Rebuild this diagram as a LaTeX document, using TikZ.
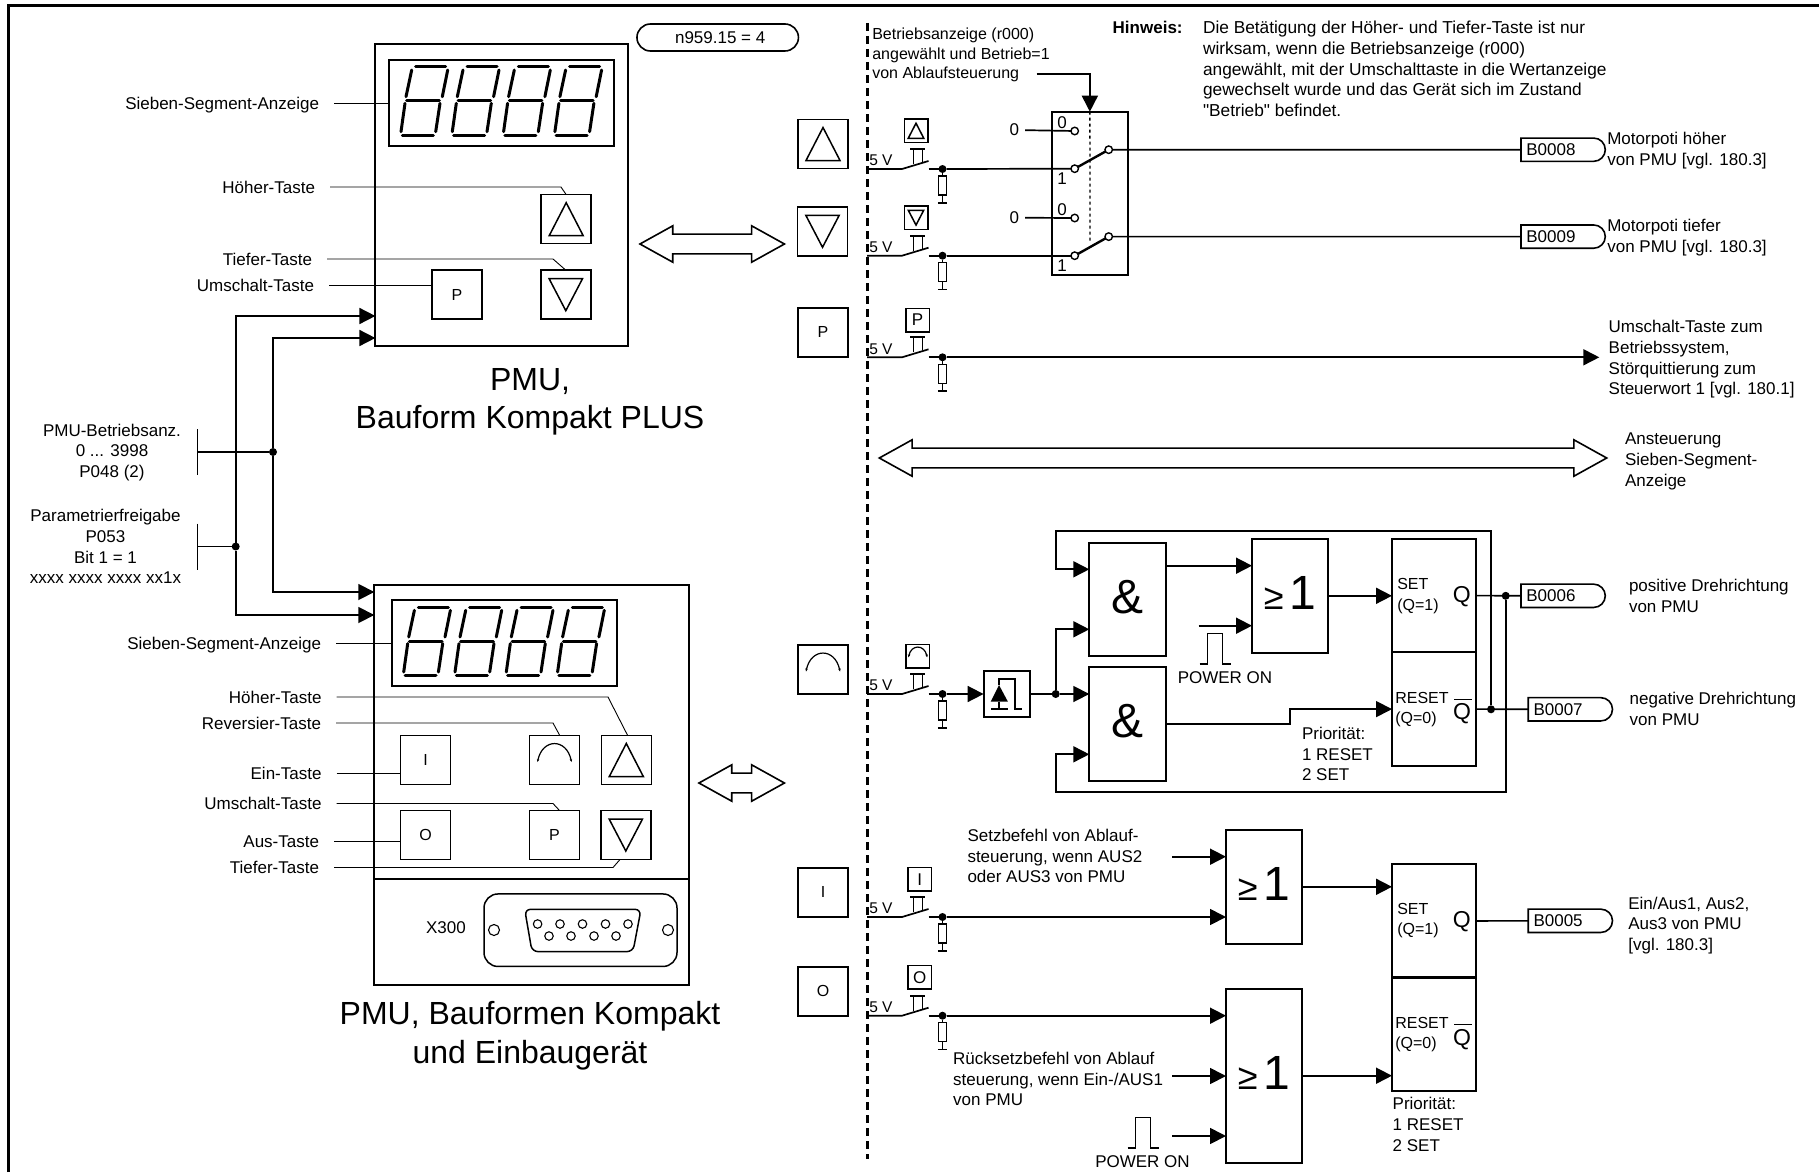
\documentclass[tikz,border=0pt]{standalone}
\usepackage{fontspec}
\setmainfont{Liberation Sans}
\newfontfamily\plainfam{Liberation Sans}
\usetikzlibrary{positioning,arrows.meta,shapes.misc,shapes.arrows,calc}

\newcommand{\labfont}{\fontsize{17}{20.8}\selectfont}
\newcommand{\capfont}{\fontsize{32}{38.5}\selectfont}
\newcommand{\gatefont}{\fontsize{48}{48}\selectfont}
\newcommand{\rsfont}{\fontsize{16}{19}\selectfont}
\newcommand{\orsym}{\fontsize{36}{36}\selectfont ≥\hspace{6pt}\gatefont 1}

\tikzset{
  pics/sevenseg/.style={code={
    \foreach \dx in {0,51.3,102.6,153.9} {
      \begin{scope}[xshift=\dx pt, line width=3pt, line cap=round]
        \draw (14.7,0) -- (44.7,0);
        \draw (5.7,34) -- (38.3,34);
        \draw (1.3,68.3) -- (32.3,68.3);
        \draw (10.7,3.3) -- (5,30);
        \draw (4,36.6) -- (0,65);
        \draw (46.7,3.3) -- (41.3,30);
        \draw (39,36.6) -- (34.7,65);
      \end{scope}
    }
  }},
  pics/upkey/.style={code={\draw[glyph] (0,-16.5) -- (17,16.5) -- (-17,16.5) -- cycle;}},
  pics/downkey/.style={code={\draw[glyph] (0,16) -- (-16.7,-16) -- (16.7,-16) -- cycle;}},
  pics/revkey/.style={code={\draw[line width=1.2pt, {Stealth[length=3pt,width=2.5pt]}-{Stealth[length=3pt,width=2.5pt]}] (-17,2) .. controls (-12,-22) and (12,-22) .. (17,2);}},
  pics/powerpulse/.style={code={\draw[wire] (0,0) -- (8,0) -- (8,-30.5) -- (23,-30.5) -- (23,0) -- (31,0);}},
  pics/keyswitch/.style={code={
    \draw[wire] (0,0) -- (35,0) -- (61.5,-8);
    \draw[wire] (61.5,0) -- (75.5,0);
    \draw[wire] (46.5,-5) -- (46.5,-20) (55.5,-7) -- (55.5,-20) (43,-20) -- (57.5,-20);
    \node[jdot] (-dot) at (75.5,0) {};
    \node[resbox] (-res) at (75.5,16.5) {};
    \node[anchor=west, font=\fontsize{15.5}{18}\selectfont] (-volt) at (2.3,-8.3) {5 V};
    \draw[wire] (-dot) -- (-res) (-res.south) -- +(0,7.7) +(-4.7,7.7) -- +(4.7,7.7);
  }},
}

\begin{document}
\begin{tikzpicture}[
    x=1pt, y=-1pt,
    >={Triangle[length=16pt,width=16pt]},
    every node/.style={font=\labfont, inner sep=0pt, outer sep=0pt},
    wire/.style ={line width=1.7pt},
    sig/.style  ={line width=1.7pt, ->},
    leader/.style={line width=0.9pt},
    glyph/.style={line width=1.5pt},
    frontbox/.style={draw, line width=2pt, anchor=north west},
    logic/.style={draw, line width=2pt, anchor=north west, minimum width=76.4pt,
                  minimum height=113.6pt, font=\gatefont, text depth=6pt},
    rsbox/.style={draw, line width=2pt, minimum width=84pt, minimum height=113.5pt},
    keybig/.style={draw, line width=1.5pt, minimum width=50pt, minimum height=49pt,
                   font=\fontsize{16}{18}\selectfont},
    keysmall/.style={draw, line width=1.5pt, minimum width=23.5pt, minimum height=23.5pt},
    jdot/.style ={circle, fill=black, minimum size=8pt},
    port/.style ={circle, draw, fill=white, line width=1.4pt, minimum size=7.5pt},
    pinhole/.style={circle, draw, line width=1.1pt, minimum size=8.5pt},
    resbox/.style={draw, fill=white, line width=1.5pt, minimum width=8pt, minimum height=19pt},
    btag/.style ={draw, rounded rectangle, rounded rectangle west arc=none, line width=1.6pt,
                  minimum width=83.3pt, minimum height=23.3pt, inner xsep=5.3pt,
                  text width=72pt, align=left},
    hollow/.style={draw, double arrow, line width=1.6pt, fill=white, double arrow head extend=8.3pt,
                   double arrow tip angle=58, minimum width=34.6pt, inner ysep=9.1pt},
    keylab/.style={anchor=east, inner xsep=15pt, text height=12.2pt, text depth=0pt},
    txt/.style  ={anchor=west, align=left},
    ctr/.style  ={align=center},
]
\useasboundingbox (0,0) rectangle (1819,1172);

\draw[line width=3pt] (8,1172) -- (8,6) -- (1819,6);
\draw[line width=3pt, dash pattern=on 8pt off 5pt] (867,23) -- (867,1159);

% PMU Kompakt PLUS
\node[frontbox, minimum width=253pt, minimum height=302.6pt] (pmuA) at (375.4,43.7) {};
\node[frontbox, minimum width=225pt, minimum height=86.4pt]  (dispA) at (389,59.6) {};
\pic at (401,66.7) {sevenseg};
\node[keybig] (tupA)  at (566.2,219.2) {};
\node[keybig] (tdnA)  at (565.8,294.7) {};
\node[keybig] (tumA)  at (457,294.7) {P};
\pic at (tupA) {upkey};
\pic at (tdnA) {downkey};

\node[keylab] (lsegA) at (334,103) {Sieben-Segment-Anzeige};
\node[keylab] (lupA)  at (330,187) {Höher-Taste};
\node[keylab] (ldnA)  at (327,259) {Tiefer-Taste};
\node[keylab] (lumA)  at (329,285) {Umschalt-Taste};
\draw[leader] (lsegA.east) -- (lsegA.east -| dispA.west);
\draw[leader] (lupA.east) -- (561,187) -- (tupA.north);
\draw[leader] (ldnA.east) -- (553,259) -- (tdnA.north);
\draw[leader] (lumA.east) -- (lumA.east -| tumA.west);
\node[hollow, minimum height=144.5pt] (dblA) at (712.2,244) {};
\node[ctr, font=\capfont] (capA) at (530,402) {PMU,\\Bauform Kompakt PLUS};
\node[draw, rounded rectangle, line width=1.6pt, minimum width=161.5pt, minimum height=27pt] (n959) at (717.7,37.5) {\hspace*{5pt}n959.15 = 4};

% PMU Kompakt und Einbaugeraet
\node[frontbox, minimum width=314.3pt, minimum height=400.4pt] (pmuB) at (374.3,584.6) {};
\draw[line width=2pt] (374.3,879) -- (688.6,879);
\node[frontbox, minimum width=225pt, minimum height=86.3pt]  (dispB) at (391.7,600) {};
\pic at (403.7,607) {sevenseg};
\node[keybig] (teinB) at (425.6,760) {I};
\node[keybig] (trevB) at (554.5,760) {};
\node[keybig] (tupB)  at (626.3,760) {};
\node[keybig] (tausB) at (425.6,835) {O};
\node[keybig] (tumB)  at (554.5,835) {P};
\node[keybig] (tdnB)  at (625.8,835) {};
\pic at (trevB) {revkey};
\pic at (tupB) {upkey};
\pic at (tdnB) {downkey};

\node[keylab] (lsegB) at (336,643) {Sieben-Segment-Anzeige};
\node[keylab] (lupB)  at (336.5,697) {Höher-Taste};
\node[keylab] (lrevB) at (336,723) {Reversier-Taste};
\node[keylab] (leinB) at (336.5,773.5) {Ein-Taste};
\node[keylab] (lumB)  at (336.5,803.5) {Umschalt-Taste};
\node[keylab] (lausB) at (334,841) {Aus-Taste};
\node[keylab] (ldnB)  at (334,867.5) {Tiefer-Taste};
\draw[leader] (lsegB.east) -- (lsegB.east -| dispB.west);
\draw[leader] (lupB.east) -- (608,697) -- (627.4,735);
\draw[leader] (lrevB.east) -- (553,723) -- (559.5,735);
\draw[leader] (leinB.east) -- (leinB.east -| teinB.west);
\draw[leader] (lumB.east) -- (553,803.5) -- (559.5,810.5);
\draw[leader] (lausB.east) -- (lausB.east -| tausB.west);
\draw[leader] (ldnB.east) -- (613,867.5) -- (620,859.5);
\node[hollow, minimum height=85.5pt] (dblB) at (741.7,783) {};
\node[ctr, font=\capfont] (capB) at (530,1035.5) {PMU, Bauformen Kompakt\\und Einbaugerät};

% X300
\node[anchor=center] (x300) at (446,928) {X300};
\node[draw, line width=1.5pt, rounded corners=14pt, minimum width=193pt, minimum height=72.5pt] (sub) at (580.5,930.2) {};
\node[pinhole, minimum size=11pt] (holeL) at (494,930) {};
\node[pinhole, minimum size=11pt] (holeR) at (668,930) {};
\draw[line width=1.5pt, rounded corners=6pt] (524.7,909.3) -- (641,909.3) -- (633,951.6) -- (532,951.6) -- cycle;
\foreach \px in {537.6,560,582.5,605.5,628} \node[pinhole] (pinT\px) at (\px,924) {};
\foreach \px in {549,571,594,616} \node[pinhole] (pinB\px) at (\px,936) {};

% Parameter
\node[ctr] (lbetr) at (112,452.5) {PMU-Betriebsanz.\\0 ... 3998\\P048 (2)};
\node[ctr] (lfrei) at (105.5,546.5) {Parametrierfreigabe\\P053\\Bit 1 = 1\\xxxx xxxx xxxx xx1x};
\coordinate (barA) at (197.5,452);
\coordinate (barB) at (197.5,546.5);
\draw[wire] (197.5,429) -- (197.5,475);
\draw[wire] (197.5,523.5) -- (197.5,570);
\node[jdot] (jA) at (273,452) {};
\node[jdot] (jB) at (235.7,546.5) {};
\draw[wire] (barA) -- (jA);
\draw[wire] (barB) -- (jB);
\draw[sig] (jB) |- (375.4,316);
\draw[sig] (jA) |- (375.4,338);
\draw[sig] (jA) |- (374.3,592);
\draw[sig] (jB) |- (374.3,615);

% Tasten links der Trennlinie
\node[keybig] (kup)  at (823,144) {};
\node[keybig] (kdn)  at (822.5,231.3) {};
\node[keybig] (kum)  at (823,332.3) {P};
\node[keybig] (krev) at (823,669.5) {};
\node[keybig] (kein) at (823,892.3) {I};
\node[keybig] (kaus) at (823,991.3) {O};
\pic at (kup) {upkey};
\pic at (kdn) {downkey};
\pic at (krev) {revkey};

\node[keysmall] (sup)  at (916,130.8) {};
\node[keysmall] (sdn)  at (916,217.7) {};
\node[keysmall] (sum)  at (917.6,320) {P};
\node[keysmall] (srev) at (917.8,656.3) {};
\node[keysmall] (sein) at (919.6,879.3) {I};
\node[keysmall] (saus) at (919.6,977.3) {O};
\pic[scale=.46] at (sup) {upkey};
\pic[scale=.46] at (sdn) {downkey};
\pic[scale=.55] at (srev) {revkey};

\pic (swup)  at (867,169) {keyswitch};
\pic (swdn)  at (867,255.7) {keyswitch};
\pic (swum)  at (867,357.3) {keyswitch};
\pic (swrev) at (867,694) {keyswitch};
\pic (swein) at (867,917) {keyswitch};
\pic (swaus) at (867,1015.7) {keyswitch};

% Umschalter
\node[frontbox, minimum width=75.7pt, minimum height=163pt] (umsch) at (1052,111.7) {};
\node[txt, font=\fontsize{16}{19.2}\selectfont] (betr) at (872.3,55) {Betriebsanzeige (r000)\\angewählt und Betrieb=1\\von Ablaufsteuerung};
\coordinate (betrend) at (1036.7,74);
\draw[sig] (betrend) -| (umsch.north);
\coordinate (umlink) at (1090,243);
\draw[line width=1.3pt, dashed] (umsch.north) -- (umlink);

\node[port] (sAnull) at (1074.7,131) {};
\node[port] (sAeins) at (1074.7,168.7) {};
\node[port] (sAaus)  at (1108.7,149.7) {};
\node[port] (sBnull) at (1074.7,218) {};
\node[port] (sBeins) at (1074.7,255.7) {};
\node[port] (sBaus)  at (1108.7,236.6) {};
\node[anchor=east, inner xsep=6pt] (nullA) at (1025,130) {0};
\node[anchor=east, inner xsep=6pt] (nullB) at (1025,217.7) {0};
\node (tnullA) at (1062,122.3) {0};
\node (teinsA) at (1062,178.3) {1};
\node (tnullB) at (1062,209.3) {0};
\node (teinsB) at (1062,265.3) {1};
\draw[wire] (nullA) -- (sAnull);
\draw[wire] (nullB) -- (sBnull);
\draw[wire] (swup-dot) -- (sAeins);
\draw[wire] (swdn-dot) -- (sBeins);
\draw[line width=2.4pt] (sAeins) -- (sAaus);
\draw[line width=2.4pt] (sBeins) -- (sBaus);

\node[btag] (b0008) at (1562.3,149.7) {B0008};
\node[btag] (b0009) at (1562.3,236.6) {B0009};
\draw[wire] (sAaus) -- (b0008);
\draw[wire] (sBaus) -- (b0009);
\node[txt] (tb8) at (1607.3,150.3) {Motorpoti höher\\von PMU [vgl. 180.3]};
\node[txt] (tb9) at (1607.3,238) {Motorpoti tiefer\\von PMU [vgl. 180.3]};

\coordinate (umend) at (1599.3,357.3);
\draw[sig] (swum-dot) -- (umend);
\node[txt] (tum) at (1608.7,359.3) {Umschalt-Taste zum\\Betriebssystem,\\Störquittierung zum\\Steuerwort 1 [vgl. 180.1]};
\node[hollow, minimum height=727.4pt] (dblC) at (1243,458) {};
\node[txt] (tseg) at (1625,461.5) {Ansteuerung\\Sieben-Segment-\\Anzeige};

\node[anchor=north west, font=\bfseries\labfont] (hinw) at (1112.7,21) {Hinweis:};
\node[anchor=north west, align=left, font=\fontsize{17.3}{20.8}\selectfont] (hinwt) at (1203,21) {Die Betätigung der Höher- und Tiefer-Taste ist nur\\wirksam, wenn die Betriebsanzeige (r000)\\angewählt, mit der Umschalttaste in die Wertanzeige\\gewechselt wurde und das Gerät sich im Zustand\\{\plainfam "Betrieb"} befindet.};

% Reversieren
\node[frontbox, minimum width=46pt, minimum height=45.4pt] (pulsebox) at (983.6,671.3) {};
\fill (999,685) -- (1007.9,701.7) -- (990.7,701.7) -- cycle;
\draw[wire] (999,701.7) -- (999,709) (991.4,709) -- (1007.5,709);
\draw[wire] (999,685) -- (999,679) -- (1015,679) -- (1015,709) -- (1022,709);
\node[jdot] (jrev) at (1055.7,694) {};
\node[logic] (andA) at (1089.3,542.7) {\&};
\node[logic] (andB) at (1089.3,667.3) {\&};
\node[logic] (orA)  at (1252,539) {\orsym};
\node[rsbox] (rsAs) at (1434,595.6) {};
\node[rsbox] (rsAr) at (1434,709.1) {};
\node[btag] (b0006) at (1562.3,595.8) {B0006};
\node[btag] (b0007) at (1569.5,709.3) {B0007};
\node[jdot] (jqA) at (1505.7,595.8) {};
\node[jdot] (jqB) at (1491,709.3) {};

\draw[sig] (swrev-dot) -- (pulsebox);
\draw[wire] (pulsebox) -- (jrev);
\draw[sig] (jrev) -- (jrev -| andB.west);
\coordinate (andAa) at (1089.3,569.3);
\coordinate (andAb) at (1089.3,629.3);
\coordinate (andBb) at (1089.3,754.3);
\coordinate (fbtop) at (1055.7,531.3);
\coordinate (fbbot) at (1055.7,792.3);
\coordinate (orAa)  at (1252,565.7);
\coordinate (orAb)  at (1252,625.7);
\coordinate (pwA)   at (1198.6,625.7);
\coordinate (bendA) at (1290,716);
\draw[sig] (jrev) |- (andAb);
\draw[sig] (jqB) |- (fbtop) |- (andAa);
\draw[sig] (jqA) |- (fbbot) |- (andBb);
\draw[sig] (orAa -| andA.east) -- (orAa);
\draw[sig] (pwA) -- (orAb);
\draw[sig] (orA.east) -- (orA.east -| rsAs.west);
\draw[sig] (andB.east) -| (bendA) |- (rsAr.west);
\draw[wire] (rsAs.east) -- (b0006);
\draw[wire] (rsAr.east) -- (b0007);
\pic at (1199.6,664) {powerpulse};
\node (pwtA) at (1225,677.7) {POWER ON};

\node[anchor=west, font=\rsfont] (setA) at (1397.3,584.3) {SET};
\node[anchor=west, font=\rsfont] (qoA)  at (1397.3,606) {(Q=1)};
\node[font=\fontsize{23}{24}\selectfont] (qA) at (1461.7,597) {Q};
\node[anchor=west, font=\rsfont] (resA) at (1395.3,698.3) {RESET};
\node[anchor=west, font=\rsfont] (qzA)  at (1395.3,719) {(Q=0)};
\node[font=\fontsize{23}{24}\selectfont] (qbA) at (1462,714) {Q};
\draw[line width=1pt] (1454.3,699.3) -- (1471.7,699.3);
\node[txt] (prioA) at (1302,754) {Priorität:\\1 RESET\\2 SET};
\node[txt] (tb6) at (1629,596) {positive Drehrichtung\\von PMU};
\node[txt] (tb7) at (1629.7,708.7) {negative Drehrichtung\\von PMU};

% Ein / Aus
\node[logic] (orB) at (1226,830) {\orsym};
\node[logic, minimum height=174pt] (orC) at (1226,988.7) {\orsym};
\node[rsbox] (rsBs) at (1434,920.9) {};
\node[rsbox] (rsBr) at (1434,1034.2) {};
\node[btag] (b0005) at (1569.5,920.8) {B0005};
\coordinate (orBa) at (1226,856.7);
\coordinate (orCb) at (1226,1076);
\coordinate (orCc) at (1226,1136);
\coordinate (setz) at (1172,856.7);
\coordinate (rueck) at (1172,1076);
\coordinate (pwB)  at (1172,1136);
\draw[sig] (setz) -- (orBa);
\draw[sig] (swein-dot) -- (swein-dot -| orB.west);
\draw[sig] (swaus-dot) -- (swaus-dot -| orC.west);
\draw[sig] (rueck) -- (orCb);
\draw[sig] (pwB) -- (orCc);
\draw[sig] (orB.east) -- (orB.east -| rsBs.west);
\draw[sig] (orC.east) -- (orC.east -| rsBr.west);
\draw[wire] (rsBs.east) -- (b0005);
\pic at (1127.5,1148) {powerpulse};
\node (pwtB) at (1142.5,1162) {POWER ON};
\node[txt] (tsetz)  at (967.5,856) {Setzbefehl von Ablauf-\\steuerung, wenn AUS2\\oder AUS3 von PMU};
\node[txt] (trueck) at (953.2,1079) {Rücksetzbefehl von Ablauf\\steuerung, wenn Ein-/AUS1\\von PMU};

\node[anchor=west, font=\rsfont] (setB) at (1397.3,909.3) {SET};
\node[anchor=west, font=\rsfont] (qoB)  at (1397.3,930.7) {(Q=1)};
\node[font=\fontsize{23}{24}\selectfont] (qB) at (1461.7,921.7) {Q};
\node[anchor=west, font=\rsfont] (resB) at (1395.3,1023.3) {RESET};
\node[anchor=west, font=\rsfont] (qzB)  at (1395.3,1044) {(Q=0)};
\node[font=\fontsize{23}{24}\selectfont] (qbB) at (1462,1039.4) {Q};
\draw[line width=1pt] (1454.3,1024.3) -- (1471.7,1024.3);
\node[txt] (prioB) at (1392.7,1124.5) {Priorität:\\1 RESET\\2 SET};
\node[txt] (tb5) at (1628.3,925.5) {Ein/Aus1, Aus2,\\Aus3 von PMU\\{[}vgl. 180.3{]}};

\end{tikzpicture}
\end{document}
